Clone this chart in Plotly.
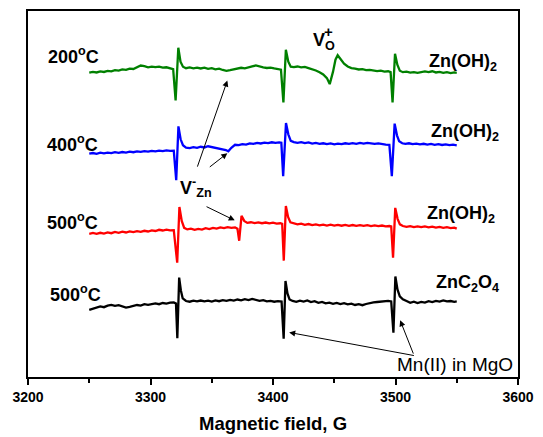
import plotly.graph_objects as go

# ---- data (field in G, intensity in arbitrary units) ----
field_200 = [3250,3253,3256,3259,3262,3265,3268,3271,3274,3277,3280,3283,3286,3289,3292,3295,3298,3301,3304,3307,3310,3313,3316,3318.5,3320.5,3322.7,3324.5,3326.5,3329,3332,3335,3338,3341,3344,3347,3350,3353,3356,3359,3362,3365,3368,3371,3374,3377,3380,3383,3386,3389,3392,3395,3398,3401,3404,3406.5,3408.5,3410.5,3412.5,3414.5,3417,3420,3423,3426,3429,3432,3435,3438,3441,3444,3446.3,3449,3451,3452.8,3455,3458,3461,3464,3467,3470,3473,3476,3479,3482,3485,3488,3491,3494,3496,3497.6,3499.6,3501.5,3503.5,3506,3509,3512,3515,3518,3521,3524,3527,3530,3533,3536,3539,3542,3545,3548,3550]
sig_200 = [329.0,329.8,329.2,330.2,329.7,330.8,330.4,331.6,331.1,332.2,331.8,333.1,332.7,334.2,336.2,335.5,334.4,335.1,334.6,335.0,334.0,334.4,333.5,332.5,301,354,340,335,333.5,334.2,333.4,334.1,333.2,334.0,332.8,333.5,332.4,333.0,331.7,330.8,331.5,332.2,333.1,333.9,333.3,334.6,335.4,336.2,335.1,334.3,333.7,334.1,333.2,332.8,332,299,352,340,335,334.5,335.2,334.4,334.8,333.6,332.7,331.2,329.4,327.2,323.5,317.5,330,342,346.5,343,338,335.2,333.6,333.1,332.2,332.5,331.5,331.8,330.9,330.5,331.0,330.0,330.4,329.5,299,348,337,331,329.5,330.0,329.0,329.6,328.8,329.4,330.2,329.5,330.4,329.2,329.8,328.8,329.5,328.6,329.2,328.8]

field_400 = [3250,3253,3256,3259,3262,3265,3268,3271,3274,3277,3280,3283,3286,3289,3292,3295,3298,3301,3304,3307,3310,3313,3316,3319,3321,3322.8,3324.6,3326.5,3329,3332,3335,3338,3341,3344,3347,3350,3353,3356,3359,3361.5,3363.5,3366,3369,3372,3375,3378,3381,3384,3387,3390,3393,3396,3399,3402,3405,3406.8,3408.3,3410.6,3412.5,3414.5,3417,3420,3423,3426,3429,3432,3435,3438,3441,3444,3447,3450,3453,3456,3459,3462,3465,3468,3471,3474,3477,3480,3483,3486,3489,3492,3495,3497,3499.3,3501.2,3503,3505.5,3508,3511,3514,3517,3520,3523,3526,3529,3532,3535,3538,3541,3544,3547,3550]
sig_400 = [247.5,248.2,247.4,248.5,247.8,248.6,248.1,249.0,248.4,249.2,248.7,249.6,249.0,249.8,249.3,250.1,249.6,250.4,249.8,250.6,250.1,250.8,250.4,250.5,221,275,262,256,253.7,253.2,254.1,253.4,254.5,253.8,255.0,254.2,253.6,253.1,252.4,251.2,250,253.5,256.5,256.1,257.2,256.7,257.9,257.4,258.4,257.8,258.7,258.1,259.0,258.4,258.8,258.5,225,278.3,267,260.5,259.2,258.5,259.1,258.2,258.8,257.7,258.3,257.4,258.0,257.1,257.8,257.0,257.7,257.1,258.0,257.4,258.2,257.5,258.3,257.7,258.4,257.8,257.4,257.9,257.0,256.6,256.4,225,277.7,266,260,258,257.4,258.0,257.1,257.7,256.9,257.5,256.7,257.3,256.5,257.1,256.3,256.9,256.1,256.7,256.0]

field_500 = [3250,3253,3256,3259,3262,3265,3268,3271,3274,3277,3280,3283,3286,3289,3292,3295,3298,3301,3304,3307,3310,3313,3316,3319,3321.8,3323.6,3325.5,3327.5,3330,3333,3336,3339,3342,3345,3348,3351,3354,3357,3360,3363,3366,3369,3371,3372.4,3374.3,3376.5,3379,3382,3385,3388,3391,3394,3397,3400,3403,3406,3407.5,3408.8,3410.5,3412.3,3414.2,3417,3420,3423,3426,3429,3432,3435,3438,3441,3444,3447,3450,3453,3456,3459,3462,3465,3468,3471,3474,3477,3480,3483,3486,3489,3492,3495,3496.5,3498,3499.8,3501.7,3503.6,3506,3509,3512,3515,3518,3521,3524,3527,3530,3533,3536,3539,3542,3545,3548,3550]
sig_500 = [167.0,167.8,166.9,168.0,167.2,168.4,167.6,168.8,168.0,169.1,168.3,169.4,168.7,169.6,169.0,170.0,169.3,170.4,169.8,171.0,170.3,171.1,170.4,170.6,138,194,180,173,171.4,172.2,171.0,172.0,171.3,172.6,171.8,173.0,172.3,173.4,172.7,173.6,173.0,173.5,172,160,185,180,178.0,178.6,177.8,178.5,177.6,178.3,177.4,178.1,177.2,177.6,177,140,195,184,178.5,177.4,176.5,177.2,176.0,176.8,175.7,176.4,175.4,176.2,175.3,176.1,175.2,176.0,175.1,175.9,175.0,175.8,175.0,175.7,174.9,175.6,174.8,175.5,174.7,175.3,174.5,174.8,174.4,143,193,182,176.5,174.8,174.0,174.7,173.8,174.5,173.7,174.4,173.5,174.2,173.2,174.0,173.0,173.6,172.7,173.2,172.2]

field_ox = [3250,3253,3256,3259,3262,3265,3268,3271,3274,3277,3280,3283,3286,3289,3292,3295,3298,3301,3304,3307,3310,3313,3316,3319,3320.8,3321.9,3323.4,3324.8,3326.3,3329,3332,3335,3338,3341,3344,3347,3350,3353,3356,3359,3362,3365,3368,3371,3374,3377,3380,3383,3386,3389,3392,3395,3398,3401,3404,3407,3408.7,3410.2,3411.8,3413.5,3416,3419,3422,3425,3428,3431,3434,3437,3440,3443,3446,3449,3452,3455,3458,3461,3464,3467,3470,3473,3476,3479,3482,3485,3488,3491,3494,3496.5,3498.3,3499.9,3501.6,3503.5,3506,3509,3512,3515,3518,3521,3524,3527,3530,3533,3536,3539,3542,3545,3548,3550]
sig_ox = [90.5,91.8,92.6,94.0,93.2,94.8,95.4,94.5,95.2,93.6,92.8,93.5,94.6,95.4,94.8,96.2,95.5,96.6,97.0,96.2,97.4,96.8,97.8,98.0,97,62,123,110,102,99.4,98.7,99.8,99.0,99.9,99.1,99.7,98.8,100.0,99.2,100.2,99.5,100.6,99.8,100.9,100.1,101.2,100.4,101.5,100.8,99.6,100.2,99.0,99.5,98.7,99.2,98.8,61.6,119.5,107,101,99.5,98.6,99.8,98.9,100.0,98.4,99.2,97.6,98.5,97.0,97.8,96.6,97.5,96.4,97.2,96.0,96.8,95.4,96.2,95.2,96.4,97.4,98.0,98.4,99.0,99.2,99.6,99,67.5,124,111,104,101.2,99.4,97.6,98.8,97.4,98.5,97.8,99.2,98.4,99.6,98.8,100.0,99.0,99.4,98.6,99.0]

x_ticks = [3200, 3300, 3400, 3500, 3600]
x_title = "Magnetic field, G"

FONT = "Liberation Sans, Arial, sans-serif"
W, H = 543, 437
L, R, T, B = 28, 16, 9, 60
X0, X1 = 3200, 3600
Y0, Y1 = 23, 391
PW, PH = W - L - R, H - T - B

def dx(px):
    return X0 + (px - L) * (X1 - X0) / PW

def dy(py):
    return Y0 + (T + PH - py) * (Y1 - Y0) / PH

def py_paper(py):
    return (T + PH - py) / PH

fig = go.Figure()
for f, s, c in [(field_200, sig_200, "#008000"), (field_400, sig_400, "#0000ff"),
                (field_500, sig_500, "#ff0000"), (field_ox, sig_ox, "#000000")]:
    fig.add_trace(go.Scatter(x=f, y=s, mode="lines", line=dict(color=c, width=2.3),
                             showlegend=False, hoverinfo="skip"))

ann = []
def text(px, py, t, size=18, bold=True, xanchor="left"):
    ann.append(dict(x=dx(px), y=dy(py), xref="x", yref="y", text=t, showarrow=False,
                    xanchor=xanchor, yanchor="middle",
                    font=dict(family=FONT, size=size, color="black",
                              weight="bold" if bold else "normal")))

def arrow(tx, ty, hx, hy):
    ann.append(dict(x=dx(hx), y=dy(hy), ax=dx(tx), ay=dy(ty), xref="x", yref="y",
                    axref="x", ayref="y", text="", showarrow=True, arrowhead=2,
                    arrowsize=1.2, arrowwidth=1, arrowcolor="black", standoff=0))

text(46, 54, "200<sup>o</sup>C")
text(45, 142, "400<sup>o</sup>C")
text(45, 221, "500<sup>o</sup>C")
text(48, 293, "500<sup>o</sup>C")
text(434, 61, "Zn(OH)<sub>2</sub>")
text(436, 131, "Zn(OH)<sub>2</sub>")
text(432, 214, "Zn(OH)<sub>2</sub>")
text(441, 283, "ZnC<sub>2</sub>O<sub>4</sub>")
text(316, 40, "V<sub>O</sub>")
text(327.5, 30, "+", size=15)
text(181, 186, "V<sup>-</sup><sub>Zn</sub>")
text(402, 364, "Mn(II) in MgO", size=19, bold=False)
ann.append(dict(x=0.5, y=py_paper(424), xref="paper", yref="paper", text=x_title,
                showarrow=False, xanchor="center", yanchor="middle",
                font=dict(family=FONT, size=18.5, color="black", weight="bold")))

arrow(200, 167, 231, 79)
arrow(211.6, 167, 231, 152)
arrow(208.3, 205, 238.5, 219.5)
arrow(422.5, 355.7, 294, 332.2)
arrow(421, 355, 407, 320)

fig.update_layout(
    width=W, height=H, margin=dict(l=L, r=R, t=T, b=B),
    paper_bgcolor="white", plot_bgcolor="white",
    annotations=ann,
    xaxis=dict(range=[X0, X1], tickvals=x_ticks, ticktext=[str(v) for v in x_ticks],
               ticks="outside", ticklen=6, tickwidth=1.5, tickcolor="black",
               minor=dict(dtick=50, ticks="outside", ticklen=4, tickwidth=1.5, tickcolor="black"),
               showline=True, linecolor="black", linewidth=1.5, mirror=True,
               showgrid=False, zeroline=False,
               tickfont=dict(family=FONT, size=14, color="black", weight="bold")),
    yaxis=dict(range=[Y0, Y1], showticklabels=False, ticks="",
               showline=True, linecolor="black", linewidth=1.5, mirror=True,
               showgrid=False, zeroline=False),
)

fig.write_html("out.html", config={"displayModeBar": False},
               post_script="document.body.style.margin='0';document.body.style.padding='0';")
